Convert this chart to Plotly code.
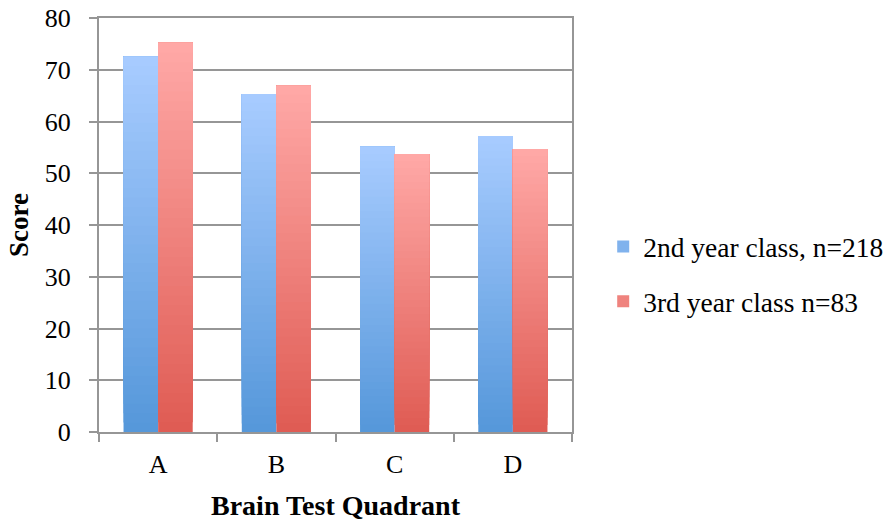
import plotly.graph_objects as go

categories = ["A", "B", "C", "D"]
series_names = ["2nd year class, n=218", "3rd year class n=83"]
second_year = [72.5, 65.3, 55.1, 57.2]
third_year = [75.2, 66.9, 53.7, 54.7]

series_values = [second_year, third_year]
# gradient colors (bottom, top) per series
grad = [((0x55, 0x97, 0xDA), (0xA8, 0xCC, 0xFF)),
        ((0xDF, 0x5B, 0x53), (0xFF, 0xA9, 0xA7))]

N = 40
fig = go.Figure()
for s, (name, vals) in enumerate(zip(series_names, series_values)):
    bot, top = grad[s]
    for i in range(N):
        t = (i + 0.5) / N
        c = tuple(round(bot[k] + (top[k] - bot[k]) * t) for k in range(3))
        # each slice spans from its start to the bar top; later slices paint over earlier ones
        fig.add_trace(go.Bar(
            x=categories,
            y=[v * (N - i) / N for v in vals],
            base=[v * i / N for v in vals],
            offsetgroup=str(s),
            legendgroup=str(s),
            name=name,
            showlegend=(i == N // 2),
            marker=dict(color="rgb(%d,%d,%d)" % c, line=dict(width=0)),
            hoverinfo="skip",
        ))

FF = "Liberation Serif"
fig.update_layout(
    width=891, height=521,
    margin=dict(l=99, r=319, t=18, b=89),
    paper_bgcolor="white", plot_bgcolor="white",
    barmode="group", bargap=0.415, bargroupgap=0,
    font=dict(family=FF, size=26, color="black"),
    legend=dict(xref="container", yref="container", x=0.677, y=0.474,
                xanchor="left", yanchor="middle",
                font=dict(family=FF, size=27.5), tracegroupgap=16, bgcolor="rgba(0,0,0,0)"),
    showlegend=True,
)
fig.update_xaxes(
    automargin=False,
    showline=True, linecolor="#969696", linewidth=2, mirror=True,
    ticks="outside", tickson="boundaries", ticklen=8, tickcolor="#969696", tickwidth=2,
    ticklabelstandoff=8,
    tickfont=dict(family=FF, size=26),
    title=dict(text="<b>Brain Test Quadrant</b>", font=dict(family=FF, size=28), standoff=27),
    showgrid=False,
)
fig.update_yaxes(
    automargin=False,
    range=[0, 80], dtick=10,
    showline=True, linecolor="#969696", linewidth=2, mirror=True,
    ticks="outside", ticklen=8, tickcolor="#969696", tickwidth=2,
    ticklabelstandoff=13,
    gridcolor="#969696", gridwidth=2,
    tickfont=dict(family=FF, size=26),
    title=dict(text="<b>Score</b>", font=dict(family=FF, size=27), standoff=8),
    zeroline=False,
)
fig.write_html("out.html", config={"displayModeBar": False},
               post_script="document.body.style.margin='0';")
